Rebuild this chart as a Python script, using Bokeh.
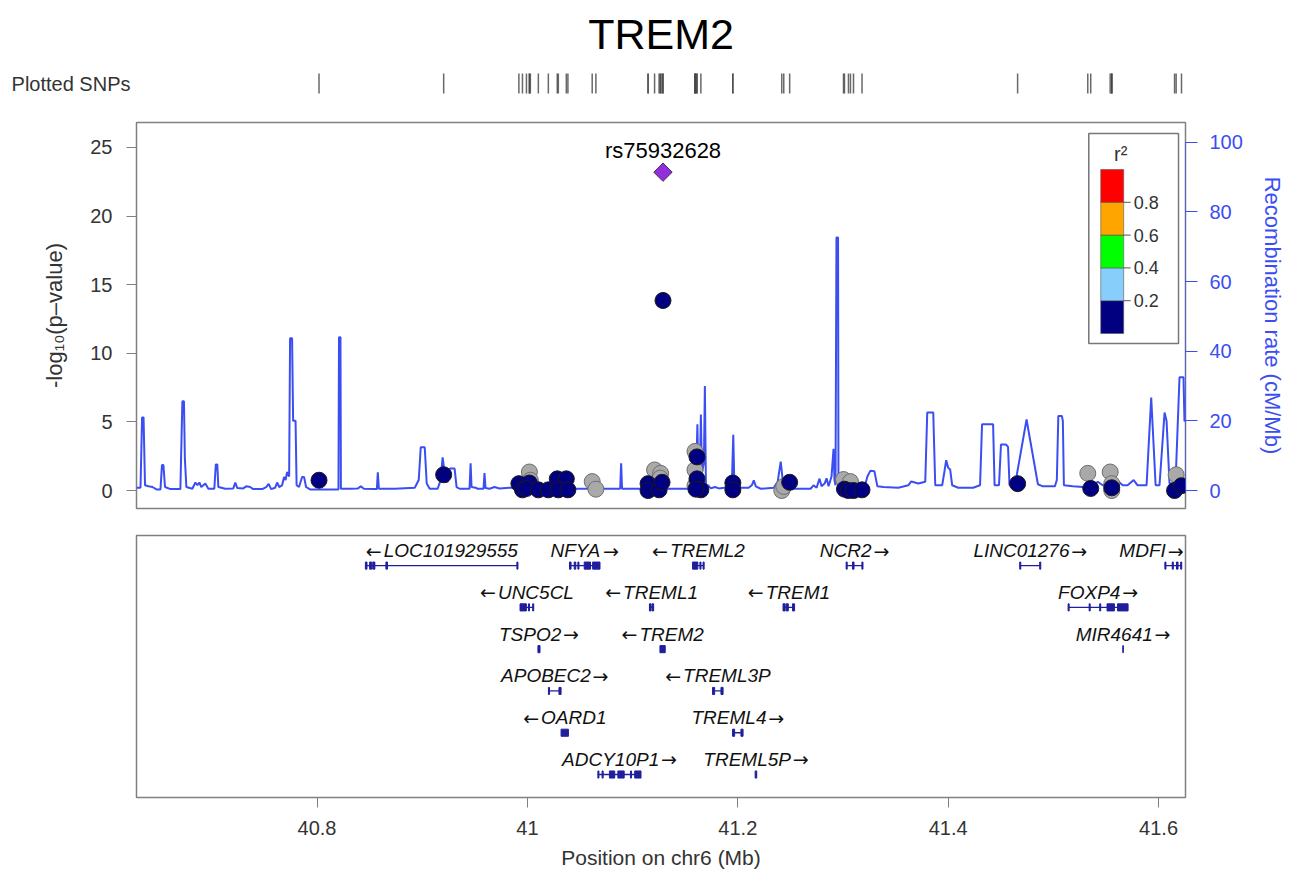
from bokeh.plotting import figure
from bokeh.layouts import column
from bokeh.models import Range1d, LinearAxis, FixedTicker
from bokeh.core.properties import value
from bokeh.embed import file_html
from bokeh.resources import INLINE

FONT = "Liberation Sans"
W, LB, RB = 1287, 136, 99
FW = W - LB - RB            # frame width in px
X_START, X_END = 40.6284, 41.6256

title_text = "TREM2"
lead_name = "rs75932628"

# ---------------- SNP data (position Mb, -log10 p, LD class) ----------------
snp_pos = [40.8019, 40.9204, 40.9919, 40.9953, 41.0019, 41.0028, 41.0019, 40.9991,
           41.0104, 41.0199, 41.0284, 41.0370, 41.0294, 41.0385, 41.0616, 41.0651,
           41.1147, 41.1147, 41.1209, 41.1267, 41.1262, 41.1252, 41.1280, 41.1289,
           41.1593, 41.1612, 41.1593, 41.1612, 41.1593, 41.1649, 41.1602,
           41.1953, 41.1953, 41.2418, 41.2437, 41.2493,
           41.3005, 41.3071, 41.3014, 41.3052, 41.3100, 41.3181,
           41.4660, 41.5327, 41.5355, 41.5540, 41.5555, 41.5555, 41.5555,
           41.6167, 41.6152, 41.6218, 41.1289]
snp_logp = [0.75, 1.15, 0.5, 0.05, 1.35, 0.75, 0.55, 0.15,
            0.05, 0.05, 0.85, 0.85, 0.05, 0.05, 0.65, 0.1,
            0.5, 0.0, 1.5, 1.25, 0.9, 0.05, 0.6, 13.85,
            2.85, 2.45, 1.5, 0.85, 0.35, 0.05, 0.1,
            0.55, 0.05, 0.0, 0.3, 0.6,
            0.8, 0.65, 0.1, 0.0, 0.0, 0.05,
            0.5, 1.25, 0.15, 1.35, 0.5, 0.2, 0.0,
            1.15, 0.0, 0.35, 23.2]
snp_ld = ["low", "low", "low", "low", "na", "na", "low", "low",
          "low", "low", "low", "low", "low", "low", "na", "na",
          "low", "low", "na", "na", "na", "low", "low", "low",
          "na", "low", "na", "low", "na", "low", "low",
          "low", "low", "na", "na", "low",
          "na", "na", "low", "low", "low", "low",
          "low", "na", "low", "na", "na", "low", "na",
          "na", "low", "low", "lead"]

# ---------------- recombination rate (Mb, cM/Mb) ----------------
recomb = [
    (40.6284, 0.8), (40.6322, 0.8), (40.6337, 21), (40.6351, 21), (40.6365, 1.5), (40.6398, 1.2),
    (40.6436, 1.0), (40.6474, 0.3), (40.6512, 0.3), (40.6526, 7.3), (40.6540, 7.3), (40.6555, 1.0),
    (40.6607, 0.4), (40.6701, 0.4), (40.6720, 25.6), (40.6735, 25.6), (40.6744, 9), (40.6758, 1.0),
    (40.6815, 0.5), (40.6844, 2.3), (40.6863, 1.5), (40.6882, 2.3), (40.6900, 1.0), (40.6938, 2.0),
    (40.6967, 0.5), (40.7024, 0.5), (40.7038, 7.5), (40.7052, 7.5), (40.7062, 1.0), (40.7128, 0.5),
    (40.7204, 0.6), (40.7223, 2.3), (40.7242, 0.7), (40.7299, 0.6), (40.7327, 1.2), (40.7365, 1.0),
    (40.7393, 0.4), (40.7479, 0.4), (40.7517, 1.0), (40.7540, 1.9), (40.7564, 0.4), (40.7602, 0.8),
    (40.7621, 2.3), (40.7640, 1.0), (40.7668, 1.5), (40.7687, 3.9), (40.7701, 3.0), (40.7716, 5.3),
    (40.7735, 4.0), (40.7744, 43.7), (40.7763, 43.7), (40.7773, 20), (40.7796, 20), (40.7806, 1.5),
    (40.7829, 1.0), (40.7858, 3.9), (40.7877, 3.9), (40.7896, 1.0), (40.7934, 0.3), (40.8028, 0.3),
    (40.8123, 0.3), (40.8204, 0.3), (40.8209, 44), (40.8223, 44), (40.8227, 0.5), (40.8313, 0.5),
    (40.8389, 0.6), (40.8417, 1.2), (40.8445, 0.5), (40.8540, 0.4), (40.8569, 0.4), (40.8578, 5.2),
    (40.8588, 0.5), (40.8739, 0.5), (40.8929, 0.8), (40.8967, 3), (40.8986, 12.4), (40.9024, 12.4),
    (40.9043, 2), (40.9071, 0.5), (40.9147, 0.5), (40.9175, 3), (40.9194, 9.5), (40.9209, 6),
    (40.9223, 2.5), (40.9242, 2.5), (40.9261, 6.3), (40.9308, 6.3), (40.9327, 1), (40.9355, 0.5),
    (40.9422, 0.5), (40.9450, 0.5), (40.9460, 7.8), (40.9469, 1.0), (40.9507, 0.8), (40.9526, 0.5),
    (40.9583, 0.5), (40.9592, 5), (40.9602, 0.7), (40.9640, 0.5), (40.9687, 1), (40.9735, 0.6),
    (40.9829, 0.8), (41.0303, 0.5), (41.0682, 0.5), (41.0882, 0.5), (41.0891, 7.8), (41.0900, 0.5),
    (41.1062, 0.5), (41.1536, 0.5), (41.1555, 2.5), (41.1573, 1), (41.1592, 6), (41.1602, 1.5),
    (41.1616, 19), (41.1626, 3), (41.1640, 5), (41.1649, 21.8), (41.1659, 5), (41.1678, 8),
    (41.1687, 30), (41.1697, 1.5), (41.1716, 1.5), (41.1744, 0.6), (41.1782, 1.0), (41.1820, 0.6),
    (41.1867, 0.8), (41.1943, 1.2), (41.1957, 16), (41.1967, 2), (41.1991, 1.5), (41.2028, 0.8),
    (41.2104, 0.8), (41.2133, 1.5), (41.2152, 2.9), (41.2171, 1.2), (41.2218, 0.5), (41.2341, 0.8),
    (41.2379, 2.5), (41.2408, 8.3), (41.2427, 3), (41.2445, 0.5), (41.2531, 0.5), (41.2692, 0.5),
    (41.2720, 1.5), (41.2749, 0.8), (41.2777, 3.4), (41.2796, 1.2), (41.2825, 2), (41.2844, 3.5),
    (41.2863, 1.2), (41.2891, 4), (41.2910, 12), (41.2919, 3), (41.2929, 1.5), (41.2938, 72.7),
    (41.2953, 72.7), (41.2957, 1.5), (41.2995, 0.6), (41.3052, 0.5), (41.3147, 0.5), (41.3204, 0.8),
    (41.3232, 4), (41.3261, 5.7), (41.3299, 5.5), (41.3327, 1.2), (41.3384, 1.0), (41.3526, 0.8),
    (41.3621, 1.5), (41.3649, 2.6), (41.3716, 2), (41.3782, 2.5), (41.3801, 22.4), (41.3858, 22.4),
    (41.3877, 1.5), (41.3943, 1.5), (41.3962, 5), (41.3981, 8.7), (41.4000, 6.5), (41.4019, 6),
    (41.4038, 1.5), (41.4095, 0.8), (41.4237, 0.8), (41.4303, 1.5), (41.4322, 19), (41.4427, 19),
    (41.4441, 1.5), (41.4483, 1.5), (41.4502, 13.2), (41.4550, 13.2), (41.4569, 12.5), (41.4583, 1.5),
    (41.4635, 1.5), (41.4745, 20.4), (41.4853, 1.8), (41.4900, 1.2), (41.5014, 1.2), (41.5033, 3),
    (41.5047, 21.4), (41.5081, 21.4), (41.5090, 20), (41.5100, 1.5), (41.5185, 1.2), (41.5280, 1.0),
    (41.5327, 1.0), (41.5374, 1.2), (41.5422, 2.5), (41.5469, 1.5), (41.5517, 1.5), (41.5564, 2.8),
    (41.5611, 2.8), (41.5659, 1.5), (41.5706, 1.5), (41.5763, 3), (41.5801, 1.5), (41.5886, 1.5),
    (41.5930, 26.7), (41.5972, 1.5), (41.6009, 1.5), (41.6057, 22.4), (41.6076, 20), (41.6104, 2),
    (41.6161, 2), (41.6199, 32.5), (41.6237, 32.5), (41.6246, 20), (41.6256, 20),
]
recomb_pos = [r[0] for r in recomb]
recomb_rate = [r[1] for r in recomb]

# ---------------- genes ----------------
gene_name = ["LOC101929555", "NFYA", "TREML2", "NCR2", "LINC01276", "MDFI",
             "UNC5CL", "TREML1", "TREM1", "FOXP4",
             "TSPO2", "TREM2", "MIR4641",
             "APOBEC2", "TREML3P",
             "OARD1", "TREML4",
             "ADCY10P1", "TREML5P"]
gene_start = [40.846, 41.040, 41.157, 41.303, 41.468, 41.606,
              40.993, 41.116, 41.243, 41.514,
              41.010, 41.126, 41.566,
              41.020, 41.176,
              41.032, 41.195,
              41.067, 41.2165]
gene_end = [40.991, 41.069, 41.168, 41.319, 41.488, 41.622,
            41.006, 41.120, 41.254, 41.571,
            41.012, 41.131, 41.5665,
            41.032, 41.186,
            41.039, 41.205,
            41.108, 41.218]
gene_strand = ["-", "+", "-", "+", "+", "+",
               "-", "-", "-", "+",
               "+", "-", "+",
               "+", "-",
               "-", "+",
               "+", "+"]
gene_row = [0, 0, 0, 0, 0, 0, 1, 1, 1, 1, 2, 2, 2, 3, 3, 4, 4, 5, 5]

exon_gene = ["LOC101929555"] * 5 + ["NFYA"] * 5 + ["TREML2"] * 3 + ["NCR2"] * 3 + \
            ["LINC01276"] * 2 + ["MDFI"] * 4 + ["UNC5CL"] * 3 + ["TREML1"] * 2 + \
            ["TREM1"] * 3 + ["FOXP4"] * 5 + ["TSPO2", "TREM2", "MIR4641"] + \
            ["APOBEC2"] * 2 + ["TREML3P"] * 2 + ["OARD1"] + ["TREML4"] * 2 + \
            ["ADCY10P1"] * 6 + ["TREML5P"]
exon_start = [40.846, 40.850, 40.853, 40.8655, 40.990,
              41.040, 41.0445, 41.048, 41.054, 41.062,
              41.157, 41.164, 41.167,
              41.303, 41.309, 41.318,
              41.468, 41.487,
              41.606, 41.613, 41.617, 41.621,
              40.993, 41.001, 41.005,
              41.116, 41.1185,
              41.243, 41.246, 41.252,
              41.514, 41.534, 41.544, 41.551, 41.561,
              41.010, 41.126, 41.566,
              41.020, 41.030,
              41.176, 41.184,
              41.032,
              41.195, 41.203,
              41.067, 41.071, 41.078, 41.086, 41.098, 41.102,
              41.2165]
exon_end = [40.8475, 40.852, 40.855, 40.867, 40.991,
            41.0415, 41.046, 41.049, 41.060, 41.069,
            41.162, 41.165, 41.168,
            41.304, 41.3105, 41.319,
            41.469, 41.488,
            41.607, 41.614, 41.6185, 41.622,
            40.999, 41.002, 41.006,
            41.1175, 41.120,
            41.245, 41.248, 41.254,
            41.515, 41.535, 41.545, 41.558, 41.571,
            41.012, 41.131, 41.5665,
            41.021, 41.032,
            41.178, 41.186,
            41.039,
            41.197, 41.205,
            41.068, 41.072, 41.083, 41.092, 41.099, 41.108,
            41.218]

x_ticks = [40.8, 41.0, 41.2, 41.4, 41.6]
x_tick_labels = ["40.8", "41", "41.2", "41.4", "41.6"]
logp_ticks = [0, 5, 10, 15, 20, 25]
recomb_ticks = [0, 20, 40, 60, 80, 100]
ld_breaks = [0.2, 0.4, 0.6, 0.8]
ld_colors = ["#000080", "#87CEFA", "#00FF00", "#FFA500", "#FF0000"]

GENE_COL = "#1f1f9e"
RECOMB_COL = "#3b4ef2"
TEXT_COL = "#333333"
AXIS_COL = "#808080"

xr = Range1d(X_START, X_END)


def base_fig(height, y_range, top, bottom):
    p = figure(width=W, height=height, x_range=xr, y_range=y_range,
               output_backend="svg", toolbar_location=None,
               x_axis_location=None, y_axis_location=None,
               min_border_left=LB, min_border_right=RB,
               min_border_top=top, min_border_bottom=bottom)
    p.grid.grid_line_color = None
    p.background_fill_color = "white"
    p.border_fill_color = "white"
    return p


# ---------------- panel 1: title + rug ----------------
H1 = 110
p1 = base_fig(H1, Range1d(0, H1), 0, 0)
p1.outline_line_color = None
p1.extra_x_ranges = {"px": Range1d(0, FW)}
p1.text(x=[FW / 2], y=[H1 - 33], text=[title_text], x_range_name="px",
        text_align="center", text_baseline="middle",
        text_font=value(FONT), text_font_size="43px", text_color="black")
p1.segment(x0=snp_pos, x1=snp_pos, y0=17, y1=37, line_color="#444444",
           line_width=1.5, line_alpha=0.8)
rug_axis = LinearAxis(ticker=FixedTicker(ticks=[27]),
                      major_label_overrides={27: "Plotted SNPs"},
                      axis_line_color=None, major_tick_line_color=None,
                      minor_tick_line_color=None, major_label_standoff=6,
                      major_tick_out=0, major_tick_in=0,
                      major_label_text_font=FONT, major_label_text_font_size="20px",
                      major_label_text_color=TEXT_COL)
p1.add_layout(rug_axis, "left")

# ---------------- panel 2: association ----------------
H2 = 410
FH2 = 386
p2 = base_fig(H2, Range1d(-1.31, 26.82), 12, 12)
p2.outline_line_color = AXIS_COL
p2.outline_line_width = 1.5
p2.extra_y_ranges = {"recomb": Range1d(-5.17, 105.7), "py": Range1d(0, FH2)}
p2.extra_x_ranges = {"px": Range1d(0, FW)}

left = LinearAxis(ticker=FixedTicker(ticks=logp_ticks), axis_label="-log\u2081\u2080(p\u2013value)",
                  axis_line_color=None, major_tick_line_color=AXIS_COL, major_tick_out=10,
                  major_tick_in=0, minor_tick_line_color=None, major_label_standoff=14,
                  major_label_text_font=FONT, major_label_text_font_size="20px",
                  major_label_text_color=TEXT_COL, axis_label_text_font=FONT,
                  axis_label_text_font_size="22px", axis_label_text_font_style="normal",
                  axis_label_text_color=TEXT_COL, axis_label_standoff=20)
p2.add_layout(left, "left")
right = LinearAxis(y_range_name="recomb", ticker=FixedTicker(ticks=recomb_ticks), bounds=(0, 100),
                   axis_label="Recombination rate (cM/Mb)", axis_line_color=RECOMB_COL,
                   axis_line_alpha=0.6, major_tick_line_color=RECOMB_COL, major_tick_out=12,
                   major_tick_in=0, minor_tick_line_color=None, major_label_standoff=12,
                   major_label_text_font=FONT, major_label_text_font_size="20px",
                   major_label_text_color=RECOMB_COL, axis_label_text_font=FONT,
                   axis_label_text_font_size="22px", axis_label_text_font_style="normal",
                   axis_label_text_color=RECOMB_COL, axis_label_standoff=14)
p2.add_layout(right, "right")

p2.line(recomb_pos, recomb_rate, y_range_name="recomb", line_color=RECOMB_COL, line_width=2)

na_x = [x for x, c in zip(snp_pos, snp_ld) if c == "na"]
na_y = [y for y, c in zip(snp_logp, snp_ld) if c == "na"]
lo_x = [x for x, c in zip(snp_pos, snp_ld) if c == "low"]
lo_y = [y for y, c in zip(snp_logp, snp_ld) if c == "low"]
ld_x = [x for x, c in zip(snp_pos, snp_ld) if c == "lead"]
ld_y = [y for y, c in zip(snp_logp, snp_ld) if c == "lead"]
p2.scatter(na_x, na_y, size=16, fill_color="#a9a9a9", line_color="#6e6e6e", line_width=1)
p2.scatter(lo_x, lo_y, size=16, fill_color=ld_colors[0], line_color="#1a1a1a", line_width=1)
p2.scatter(ld_x, ld_y, marker="square", angle=0.785398, size=13, fill_color="#9130d8",
           line_color="#4a2a60", line_width=1)
p2.text(x=ld_x, y=ld_y, text=[lead_name], y_offset=-22, text_align="center",
        text_baseline="middle", text_font=value(FONT), text_font_size="22px", text_color="black")

# legend (frame pixel coordinates)
p2.quad(left=[955], right=[1045], bottom=[165], top=[375], fill_color="white",
        line_color="#777777", line_width=1.5, x_range_name="px", y_range_name="py")
seg_h = 32.8
bar_b = 175
p2.quad(left=[967] * 5, right=[990] * 5,
        bottom=[bar_b + i * seg_h for i in range(5)],
        top=[bar_b + (i + 1) * seg_h for i in range(5)],
        fill_color=ld_colors, line_color="#555555", line_width=0.6,
        x_range_name="px", y_range_name="py")
tick_y = [bar_b + (i + 1) * seg_h for i in range(4)]
p2.segment(x0=[990] * 4, x1=[997] * 4, y0=tick_y, y1=tick_y, line_color="#555555",
           line_width=1, x_range_name="px", y_range_name="py")
p2.text(x=[1000] * 4, y=tick_y, text=[f"{b:.1f}" for b in ld_breaks], x_range_name="px",
        y_range_name="py", text_align="left", text_baseline="middle",
        text_font=value(FONT), text_font_size="18px", text_color=TEXT_COL)
p2.text(x=[987], y=[355], text=["r\u00b2"], x_range_name="px", y_range_name="py",
        text_align="center", text_baseline="middle", text_font=value(FONT),
        text_font_size="20px", text_color=TEXT_COL)

# ---------------- panel 3: genes ----------------
H3 = 351
p3 = base_fig(H3, Range1d(-5.55, 0.72), 15, 74)
p3.outline_line_color = AXIS_COL
p3.outline_line_width = 1.5
xax = LinearAxis(ticker=FixedTicker(ticks=x_ticks),
                 major_label_overrides={t: l for t, l in zip(x_ticks, x_tick_labels)},
                 axis_label="Position on chr6 (Mb)", axis_line_color=None,
                 major_tick_line_color=AXIS_COL, major_tick_out=10, major_tick_in=0,
                 minor_tick_line_color=None, major_label_standoff=13,
                 major_label_text_font=FONT, major_label_text_font_size="20px",
                 major_label_text_color=TEXT_COL, axis_label_text_font=FONT,
                 axis_label_text_font_size="21px", axis_label_text_font_style="normal",
                 axis_label_text_color=TEXT_COL, axis_label_standoff=8)
p3.add_layout(xax, "below")

row_of = dict(zip(gene_name, gene_row))
p3.segment(x0=gene_start, x1=gene_end, y0=[-r for r in gene_row], y1=[-r for r in gene_row],
           line_color=GENE_COL, line_width=1.3)
ex_y = [-row_of[g] for g in exon_gene]
p3.quad(left=exon_start, right=exon_end, bottom=[y - 0.085 for y in ex_y],
        top=[y + 0.085 for y in ex_y], fill_color=GENE_COL, line_color=GENE_COL, line_width=1)

# gene labels: name in italic Liberation Sans, strand arrow drawn separately
GFS = 19
CW = {'A': .667, 'B': .667, 'C': .722, 'D': .722, 'E': .667, 'F': .611, 'G': .778,
      'H': .722, 'I': .278, 'J': .5, 'K': .667, 'L': .556, 'M': .833, 'N': .722,
      'O': .778, 'P': .667, 'Q': .778, 'R': .722, 'S': .667, 'T': .611, 'U': .722,
      'V': .667, 'W': .944, 'X': .667, 'Y': .667, 'Z': .611}
px_per_mb = FW / (X_END - X_START)
ARW = 0.838 * GFS + 2
name_x, name_y, arr_x, arr_y, arr_t = [], [], [], [], []
for n, s, e, st, r in zip(gene_name, gene_start, gene_end, gene_strand, gene_row):
    nw = sum(CW.get(ch, .556) for ch in n) * GFS
    total = nw + ARW
    c_px = ((s + e) / 2 - X_START) * px_per_mb
    left_px = min(max(c_px - total / 2, 2), FW - 2 - total)
    y = -r + 0.36
    if st == "-":
        arr_x.append(X_START + left_px / px_per_mb)
        name_x.append(X_START + (left_px + ARW) / px_per_mb)
        arr_t.append("\u2190")
    else:
        name_x.append(X_START + left_px / px_per_mb)
        arr_x.append(X_START + (left_px + nw + 2) / px_per_mb)
        arr_t.append("\u2192")
    name_y.append(y)
    arr_y.append(y)
p3.text(x=name_x, y=name_y, text=gene_name, text_align="left", text_baseline="middle",
        text_font=value(FONT), text_font_style="italic", text_font_size=f"{GFS}px",
        text_color="#111111")
p3.text(x=arr_x, y=arr_y, text=arr_t, text_align="left", text_baseline="middle",
        text_font=value("DejaVu Sans"), text_font_size=f"{GFS}px", text_color="#111111")

layout = column(p1, p2, p3)
open("out.html", "w").write(file_html(layout, INLINE))
